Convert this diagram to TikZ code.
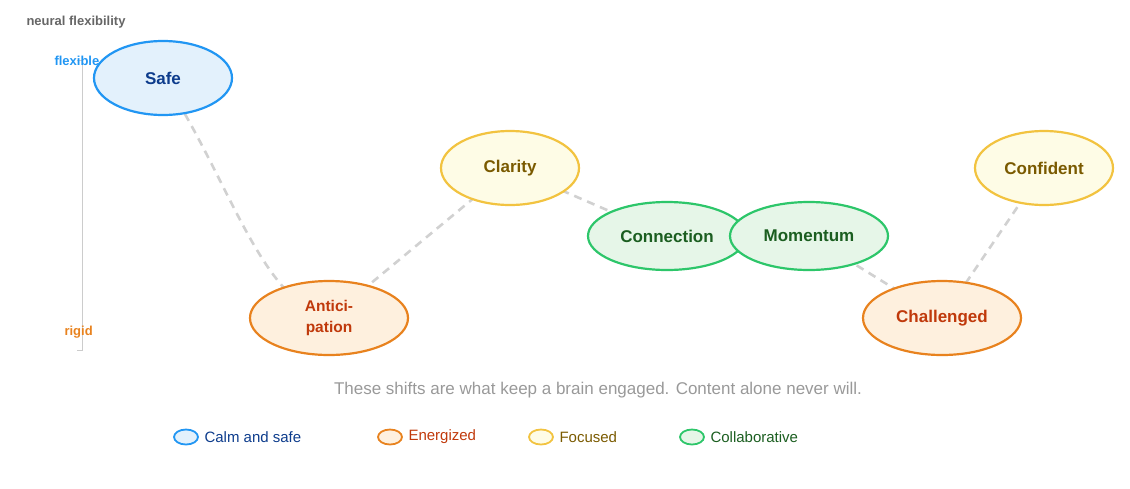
\documentclass[tikz,border=0pt]{standalone}
\usepackage{fontspec}
\setmainfont{Liberation Sans}
\usetikzlibrary{shapes.geometric}
\definecolor{bB}{HTML}{2196F3}\definecolor{bF}{HTML}{E3F1FC}\definecolor{bT}{HTML}{0D3C8C}
\definecolor{oB}{HTML}{E8821E}\definecolor{oF}{HTML}{FEF0DE}\definecolor{oT}{HTML}{C0390B}
\definecolor{yB}{HTML}{F2C340}\definecolor{yF}{HTML}{FEFCE6}\definecolor{yT}{HTML}{7A5A00}
\definecolor{gB}{HTML}{2DC66A}\definecolor{gF}{HTML}{E6F6E8}\definecolor{gT}{HTML}{1B5E20}
\begin{document}
\begin{tikzpicture}[x=1pt,y=-1pt,
 st/.style={ellipse,line width=2.2pt,inner sep=0pt,align=center,font=\fontsize{17}{19}\selectfont\bfseries},
 sB/.style={st,draw=bB,fill=bF,text=bT},
 sO/.style={st,draw=oB,fill=oF,text=oT},
 sY/.style={st,draw=yB,fill=yF,text=yT},
 sG/.style={st,draw=gB,fill=gF,text=gT},
 conn/.style={draw=black!18,line width=2.6pt,dash pattern=on 8pt off 6pt},
 lg/.style={ellipse,line width=1.8pt,minimum width=24pt,minimum height=15pt,inner sep=0pt},
 lt/.style={anchor=west,font=\fontsize{15}{17}\selectfont}]
\useasboundingbox (0,0) rectangle (1130,488);
% axis
\draw[black!20,line width=1pt] (77,60) -- (82,60) -- (82,350) -- (77,350);
\node[anchor=west,text=black!60,font=\fontsize{13}{15}\selectfont\bfseries] (ax) at (23,22) {neural flexibility};
\node[anchor=west,text=bB,font=\fontsize{13}{15}\selectfont\bfseries] (fl) at (51,61) {flexible};
\node[anchor=west,text=oB,font=\fontsize{13}{15}\selectfont\bfseries] (rg) at (61,332) {rigid};
% connectors (behind)
\coordinate (cs) at (163,78); \coordinate (ca) at (329,318); \coordinate (cc) at (510,168);
\coordinate (cn) at (667,236); \coordinate (cm) at (809,236); \coordinate (ch) at (942,318); \coordinate (cf) at (1044,168);
\draw[conn] (cs) .. controls (230,180) and (260,300) .. (ca);
\draw[conn] (ca) -- (cc);
\draw[conn] (cc) -- (cn);
\draw[conn] (cm) -- (ch);
\draw[conn] (ch) -- (cf);
% nodes
\node[sB,minimum width=138pt,minimum height=74pt] (safe) at (cs) {Safe};
\node[sO,minimum width=158pt,minimum height=74pt,font=\fontsize{15.5}{21}\selectfont\bfseries] (ant) at (ca) {Antici-\\pation};
\node[sY,minimum width=138pt,minimum height=74pt] (cla) at (cc) {Clarity};
\node[sG,minimum width=158pt,minimum height=68pt] (con) at (cn) {Connection};
\node[sG,minimum width=158pt,minimum height=68pt] (mom) at (cm) {Momentum};
\node[sO,minimum width=158pt,minimum height=74pt] (cha) at (ch) {Challenged};
\node[sY,minimum width=138pt,minimum height=74pt] (cnf) at (cf) {Confident};
% caption
\node[text=black!40,font=\fontsize{17}{19}\selectfont] (cap) at (598,390) {These shifts are what keep a brain engaged. Content alone never will.};
% legend
\node[lg,draw=bB,fill=bF] (l1) at (186,437) {}; \node[lt,text=bT] (t1) at (201,437) {Calm and safe};
\node[lg,draw=oB,fill=oF] (l2) at (390,437) {}; \node[lt,text=oT] (t2) at (405,437) {Energized};
\node[lg,draw=yB,fill=yF] (l3) at (541,437) {}; \node[lt,text=yT] (t3) at (556,437) {Focused};
\node[lg,draw=gB,fill=gF] (l4) at (692,437) {}; \node[lt,text=gT] (t4) at (707,437) {Collaborative};
\end{tikzpicture}
\end{document}
